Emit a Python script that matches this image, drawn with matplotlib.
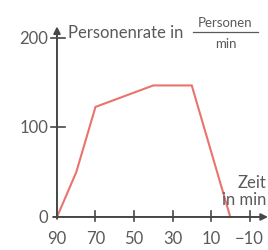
import matplotlib
matplotlib.use("Agg")
import matplotlib.pyplot as plt

# Data
time_min = [90, 80, 70, 40, 20, 0]
rate = [0, 50, 123, 147, 147, 0]
x_ticks = [90, 70, 50, 30, 10, -10]
x_tick_labels = ["90", "70", "50", "30", "10", "\u221210"]
y_ticks = [0, 100, 200]
y_tick_labels = ["0", "100", "200"]

FONT = ["Lato", "DejaVu Sans"]
TXT = "#5a5a5a"
AX = "#474747"
LINE = "#e8746d"

fig = plt.figure(figsize=(2.68, 2.51), dpi=100)
ax = fig.add_axes([0, 0, 1, 1])
ax.set_xlim(119.6, -19.6)
ax.set_ylim(-36.9, 243.6)
ax.axis("off")

ax.plot(time_min, rate, color=LINE, lw=1.5, solid_joinstyle="miter", zorder=3)

# axes lines with arrows
ax.annotate("", xy=(-19.6, 0), xytext=(92, 0),
            arrowprops=dict(arrowstyle="-|>", color=AX, lw=1.4, mutation_scale=10, shrinkA=0, shrinkB=0))
ax.annotate("", xy=(90, 213), xytext=(90, -2),
            arrowprops=dict(arrowstyle="-|>", color=AX, lw=1.4, mutation_scale=10, shrinkA=0, shrinkB=0))

for t, lab in zip(x_ticks, x_tick_labels):
    if t != 90:
        ax.plot([t, t], [-5, 7], color=AX, lw=1.2)
    ax.text(t, -14, lab, ha="center", va="top", fontsize=12, color=TXT, family=FONT)
for v, lab in zip(y_ticks, y_tick_labels):
    if v != 0:
        ax.plot([93, 86], [v, v], color=AX, lw=1.2)
    ax.text(94.5, v, lab, ha="right", va="center", fontsize=12, color=TXT, family=FONT)

ax.text(84.5, 207, "Personenrate in", ha="left", va="center", fontsize=12, color=TXT, family=FONT)
ax.text(2.5, 218, "Personen", ha="center", va="center", fontsize=9.5, color=TXT, family=FONT)
ax.plot([19.3, -14.4], [207, 207], color=TXT, lw=0.9)
ax.text(2.5, 194, "min", ha="center", va="center", fontsize=9.5, color=TXT, family=FONT)

ax.text(-18.6, 39, "Zeit", ha="right", va="center", fontsize=12, color=TXT, family=FONT)
ax.text(-18.6, 20, "in min", ha="right", va="center", fontsize=12, color=TXT, family=FONT)

fig.savefig("out.png", dpi=100)
